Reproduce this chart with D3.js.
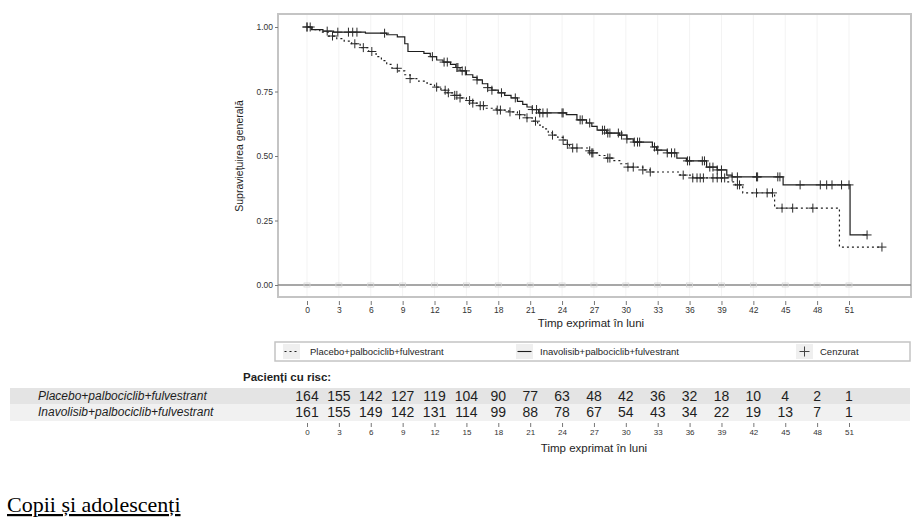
<!DOCTYPE html>
<html><head><meta charset="utf-8">
<script src="https://cdn.jsdelivr.net/npm/d3@7"></script>
<style>
body{margin:0;background:#fff;}
svg{display:block;font-family:"Liberation Sans",Arial,sans-serif;}
</style></head>
<body><svg id="c" width="921" height="524"></svg>
<script>
// ---------------- DATA ----------------
const xTicks = [0,3,6,9,12,15,18,21,24,27,30,33,36,39,42,45,48,51];
const yTicks = [0,0.25,0.5,0.75,1];
const groups = ["Placebo+palbociclib+fulvestrant","Inavolisib+palbociclib+fulvestrant"];
const riskPlacebo = [164,155,142,127,119,104,90,77,63,48,42,36,32,18,10,4,2,1];
const riskInavo   = [161,155,149,142,131,114,99,88,78,67,54,43,34,22,19,13,7,1];

// Inavolisib (solid) KM steps: time (months), survival
const invTime = [0,0.4,1.5,2.5,5.5,7.5,8.5,9.2,9.5,11,11.6,12.2,12.8,13.5,14,14.4,15,15.6,16,16.5,17,17.4,18,18.6,19.2,19.8,20.3,20.7,21.2,21.8,24.4,25.4,26.3,26.8,27.3,28.2,29.4,30.1,30.7,32.5,32.9,33.9,34.8,35.7,37.6,38.6,39.5,40,44.8,51.1,52.7];
const invSurv = [1,0.99,0.984,0.98,0.976,0.97,0.962,0.935,0.905,0.898,0.885,0.872,0.864,0.855,0.843,0.83,0.815,0.805,0.795,0.78,0.765,0.755,0.745,0.735,0.725,0.712,0.7,0.69,0.68,0.667,0.66,0.64,0.628,0.615,0.6,0.589,0.581,0.566,0.554,0.535,0.523,0.512,0.492,0.481,0.457,0.446,0.426,0.419,0.388,0.194,0.194];
const invCensor = [0,1.9,2.9,3.9,4.3,4.7,7.3,11.8,12.9,13.2,14.1,14.2,14.6,14.9,16,17,17.4,18.3,19.6,21.2,21.6,21.9,22.2,22.6,24,24.1,25.7,25.9,26.6,27.8,28,28.3,28.5,29.3,29.6,30.1,30.8,31.1,31.3,32.7,33,33.9,34.3,34.6,35.8,36,37.2,37.4,37.9,38.2,38.6,39,40,40.5,42.3,42.4,44.3,44.5,46.4,48.3,48.9,49.4,50.3,51,52.7];

// Placebo (dashed) KM steps
const plaTime = [0,0.5,1.2,2,2.8,3.5,4.2,5,5.8,6.5,7,7.5,8,8.6,9.2,9.7,10.5,11.3,12,12.6,13.2,13.8,14.4,15,15.6,16.2,16.8,17.8,19,19.8,20.5,21.2,21.7,22.2,22.7,23.1,23.6,24.1,24.5,24.7,26.5,26.8,27.5,28.2,28.8,29.5,30.1,31.6,32.3,35.1,36.3,39.6,40.3,41,44,50.1,54.1];
const plaSurv = [1,0.99,0.98,0.965,0.955,0.945,0.935,0.92,0.905,0.885,0.87,0.855,0.84,0.83,0.815,0.8,0.79,0.778,0.767,0.755,0.745,0.735,0.725,0.715,0.705,0.695,0.685,0.678,0.671,0.66,0.648,0.635,0.62,0.605,0.59,0.581,0.572,0.562,0.545,0.531,0.52,0.512,0.502,0.492,0.482,0.47,0.457,0.446,0.438,0.426,0.415,0.4,0.388,0.357,0.298,0.147,0.147];
const plaCensor = [0,0.3,2.4,4.5,5.3,6.1,8.5,9.7,12.2,13,13.3,13.9,14.1,14.4,15.3,15.6,16.3,16.6,17.9,18.2,19.1,20,20.7,21.5,23.1,24.1,24.5,25,25.4,26.6,26.8,26.9,28.3,28.5,30.2,30.7,31.6,32.3,35.4,36.3,36.7,37,37.3,38.2,38.6,39,39.3,40.5,40.7,42.3,43.3,43.8,44.7,45.7,47.6,54.1];

// ---------------- DRAW ----------------
const svg = d3.select("#c");
const panel = {x0:278, x1:911, y0:14, y1:297};
const x = d3.scaleLinear().domain([0,51]).range([307,849]);
const y = d3.scaleLinear().domain([0,1]).range([285,27]);
const ink = "#1e1e1e";

// panel
svg.append("rect").attr("x",panel.x0).attr("y",panel.y0)
  .attr("width",panel.x1-panel.x0).attr("height",panel.y1-panel.y0)
  .attr("fill","#fff").attr("stroke","#c4c4c4").attr("stroke-width",2);
// faint vertical grid
svg.append("g").selectAll("line").data(xTicks).join("line")
  .attr("x1",d=>x(d)).attr("x2",d=>x(d)).attr("y1",panel.y0+1).attr("y2",panel.y1-1)
  .attr("stroke","#f3f3f3").attr("stroke-width",1);
// zero line
svg.append("line").attr("x1",panel.x0).attr("x2",panel.x1).attr("y1",y(0)).attr("y2",y(0))
  .attr("stroke","#8a8a8a").attr("stroke-width",1.6);
svg.append("g").selectAll("rect").data(xTicks).join("rect")
  .attr("x",d=>x(d)-3).attr("y",y(0)-2).attr("width",6).attr("height",4)
  .attr("fill","none").attr("stroke","#d6d6d6").attr("stroke-width",0.8);

// y axis
const yAx = svg.append("g").attr("transform",`translate(${panel.x0},0)`)
  .call(d3.axisLeft(y).tickValues(yTicks).tickFormat(d3.format(".2f")).tickSize(3).tickPadding(2));
yAx.select(".domain").remove();
yAx.selectAll("line").attr("stroke","#777");
yAx.selectAll("text").attr("font-size",8.5).attr("fill","#333").attr("font-family","Liberation Sans");

// x axis
const xAx = svg.append("g").attr("transform",`translate(0,${panel.y1+4})`)
  .call(d3.axisBottom(x).tickValues(xTicks).tickSize(4).tickPadding(2));
xAx.select(".domain").remove();
xAx.selectAll("line").attr("stroke","#777");
xAx.selectAll("text").attr("font-size",8.5).attr("fill","#333").attr("font-family","Liberation Sans");

svg.append("text").attr("x",591).attr("y",327).attr("text-anchor","middle")
  .attr("font-size",11.5).attr("fill",ink).text("Timp exprimat în luni");
svg.append("text").attr("transform","translate(243,156) rotate(-90)").attr("text-anchor","middle")
  .attr("font-size",10.5).attr("fill",ink).text("Supraviețuirea generală");

// curves
function drawKM(times, surv, censor, dash){
  const pts = times.map((t,i)=>[t,surv[i]]);
  const line = d3.line().x(d=>x(d[0])).y(d=>y(d[1])).curve(d3.curveStepAfter);
  svg.append("path").attr("d",line(pts)).attr("fill","none").attr("stroke",ink)
    .attr("stroke-width",1.2).attr("stroke-dasharray",dash||null);
  const bis = d3.bisector(d=>d).right;
  const sAt = t => surv[Math.max(0,bis(times,t)-1)];
  const g = svg.append("g");
  censor.forEach(t=>{
    const cx = x(t), cy = y(sAt(t));
    g.append("path").attr("d",`M${cx-4.5},${cy}H${cx+4.5}M${cx},${cy-4.5}V${cy+4.5}`)
      .attr("stroke","#2a2a2a").attr("stroke-width",1);
  });
}
drawKM(plaTime, plaSurv, plaCensor, "2,3");
drawKM(invTime, invSurv, invCensor, null);

// legend
svg.append("rect").attr("x",275).attr("y",342).attr("width",635).attr("height",19)
  .attr("fill","#fff").attr("stroke","#c4c4c4").attr("stroke-width",1.5);
const leg = [
  {kx:283, tx:310, label:groups[0], type:"dash"},
  {kx:516, tx:540, label:groups[1], type:"solid"},
  {kx:796, tx:820, label:"Cenzurat", type:"cens"}
];
leg.forEach(l=>{
  svg.append("rect").attr("x",l.kx).attr("y",344).attr("width",17).attr("height",15).attr("fill","#efefef");
  const cx = l.kx+8.5, cy=351.5;
  if(l.type==="cens"){
    svg.append("path").attr("d",`M${cx-5},${cy}H${cx+5}M${cx},${cy-5}V${cy+5}`).attr("stroke","#444").attr("stroke-width",1);
  } else {
    svg.append("line").attr("x1",cx-7).attr("x2",cx+7).attr("y1",cy).attr("y2",cy)
      .attr("stroke",ink).attr("stroke-width",1.1).attr("stroke-dasharray",l.type==="dash"?"2,3":null);
  }
  svg.append("text").attr("x",l.tx).attr("y",355).attr("font-size",9.5).attr("fill",ink).text(l.label);
});

// risk table
svg.append("text").attr("x",243).attr("y",381).attr("font-size",11.5).attr("font-weight","bold")
  .attr("fill",ink).text("Pacienți cu risc:");
const rows = [
  {label:groups[0], vals:riskPlacebo, y0:388, h:16, fill:"#e4e4e4"},
  {label:groups[1], vals:riskInavo, y0:404, h:17, fill:"#f1f1f1"}
];
rows.forEach(r=>{
  svg.append("rect").attr("x",10).attr("y",r.y0).attr("width",900).attr("height",r.h).attr("fill",r.fill);
  svg.append("text").attr("x",38).attr("y",r.y0+12).attr("font-size",12).attr("font-style","italic")
    .attr("fill",ink).text(r.label);
  svg.append("g").selectAll("text").data(r.vals).join("text")
    .attr("x",(d,i)=>x(xTicks[i])).attr("y",r.y0+13).attr("text-anchor","middle")
    .attr("font-size",14).attr("fill",ink).text(d=>d);
});
const xAx2 = svg.append("g").attr("transform","translate(0,423)")
  .call(d3.axisBottom(x).tickValues(xTicks).tickSize(4).tickPadding(2));
xAx2.select(".domain").remove();
xAx2.selectAll("line").attr("stroke","#777");
xAx2.selectAll("text").attr("font-size",8).attr("fill","#333").attr("font-family","Liberation Sans");
svg.append("text").attr("x",594).attr("y",452).attr("text-anchor","middle")
  .attr("font-size",11.5).attr("fill",ink).text("Timp exprimat în luni");

// caption
svg.append("text").attr("x",7).attr("y",512).attr("font-family","Liberation Serif")
  .attr("font-size",22).attr("fill","#000").attr("text-decoration","underline").text("Copii și adolescenți");
</script></body></html>
